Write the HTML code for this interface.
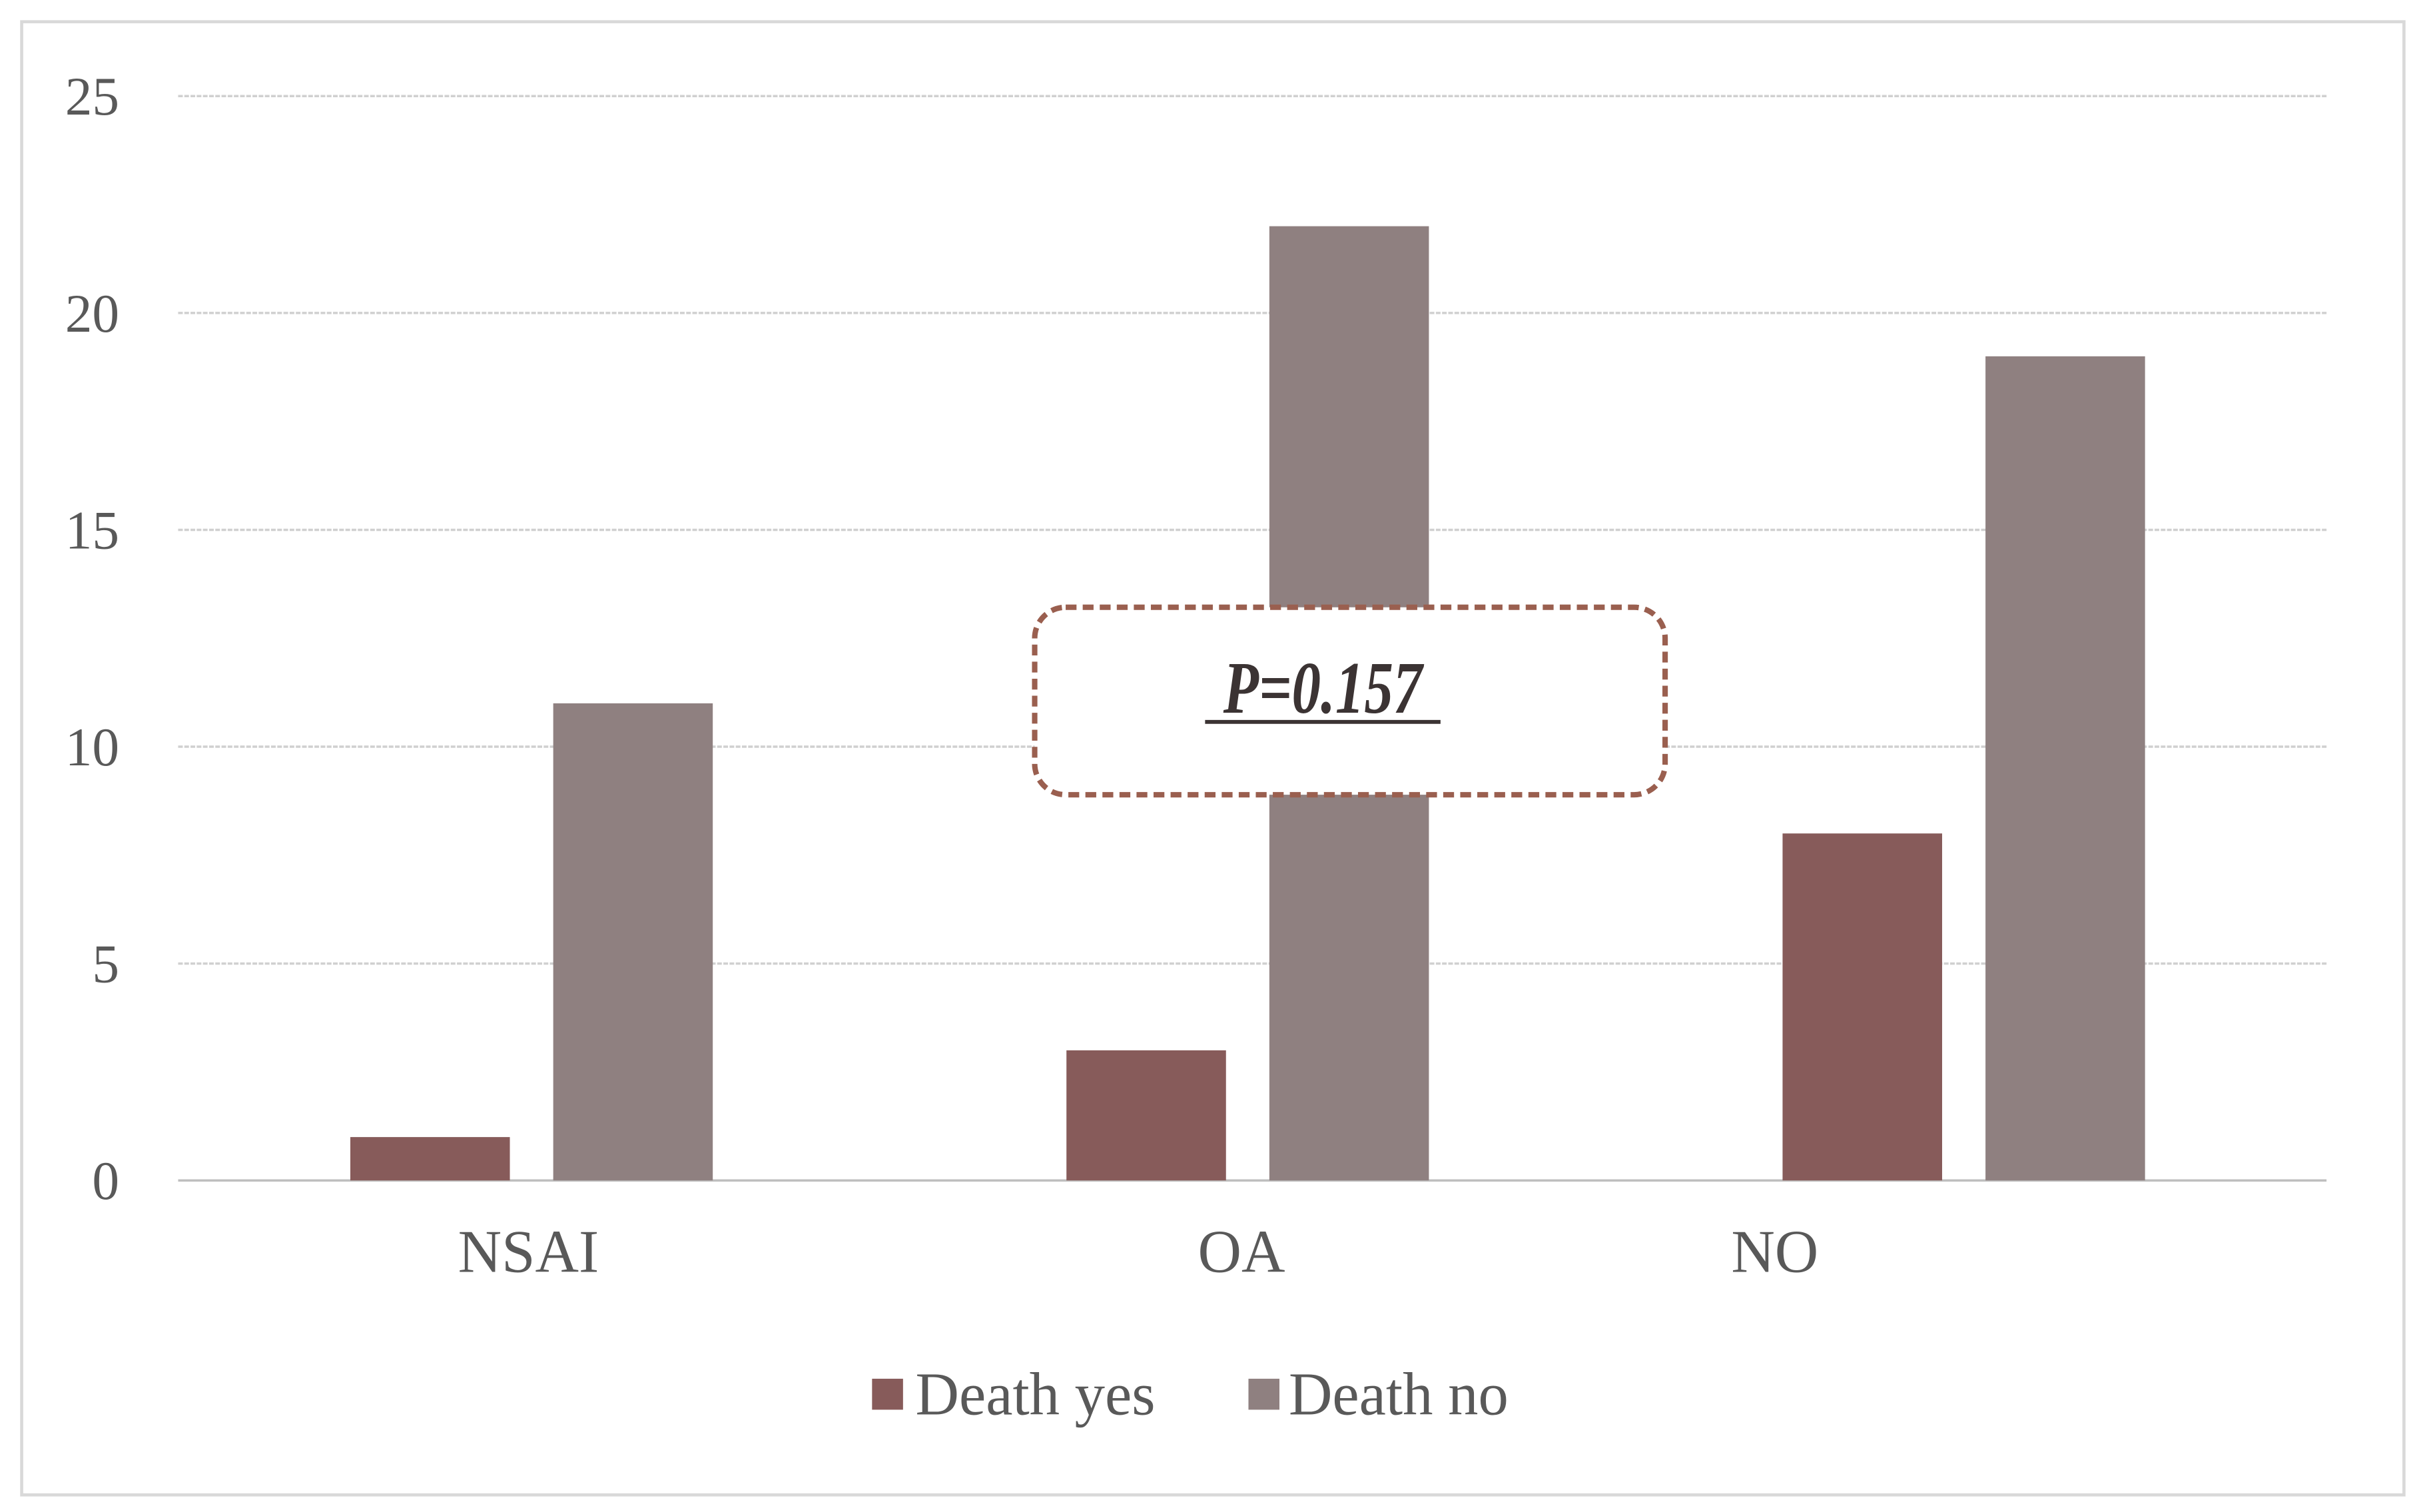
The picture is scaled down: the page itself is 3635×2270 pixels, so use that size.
<!DOCTYPE html>
<html><head><meta charset="utf-8"><style>
html,body{margin:0;padding:0;background:#fff;}
svg{display:block;}
</style></head><body>
<svg id="chart" width="3635" height="2270" viewBox="0 0 1563 976" xmlns="http://www.w3.org/2000/svg" font-family="'Liberation Serif', serif">
<rect x="14" y="14" width="1538" height="951" fill="#fff" stroke="#d9d9d9" stroke-width="2"/>
<g id="grid"></g>
<g id="bars"></g>
<g id="labels"></g>
<g>
<rect x="668" y="392" width="407" height="121" rx="20" ry="20" fill="#fff" stroke="#9a5f4f" stroke-width="3.5" stroke-dasharray="7,4"/>
<text x="854" y="460" text-anchor="middle" font-size="48" font-style="italic" font-weight="bold" fill="#3b3333" transform="translate(854 0) scale(0.78 1) translate(-854 0)">P=0.157</text>
<line x1="778" y1="466" x2="930" y2="466" stroke="#3b3333" stroke-width="2.5"/>
</g>
<g>
<rect x="563" y="890" width="20" height="20" fill="#875b5a"/>
<text x="591" y="913" font-size="39" fill="#595959">Death yes</text>
<rect x="806" y="890" width="20" height="20" fill="#8f8080"/>
<text x="832" y="913" font-size="39" fill="#595959">Death no</text>
</g>
</svg>
<script>
const categories = ["NSAI", "OA", "NO"];
const deathYes = [1, 3, 8];
const deathNo = [11, 22, 19];
const yTicks = [0, 5, 10, 15, 20, 25];

const NS = "http://www.w3.org/2000/svg";
const plotL = 115, plotR = 1502, plotT = 62, plotB = 762, yMax = 25;
function y(v){ return plotB - (v / yMax) * (plotB - plotT); }
const band = (plotR - plotL) / categories.length;
function xBand(i){ return plotL + band * i; }
const barW = 103, gap = 28;
const labelShift = [-5, -7, -125];

function mk(tag, attrs){ const e = document.createElementNS(NS, tag); for (const k in attrs) e.setAttribute(k, attrs[k]); return e; }
const grid = document.getElementById("grid"), bars = document.getElementById("bars"), labels = document.getElementById("labels");

yTicks.forEach(t => {
  const l = mk("line", {x1: plotL, x2: plotR, y1: y(t), y2: y(t), stroke: t === 0 ? "#bfbfbf" : "#d0d0d0", "stroke-width": 1.5, "stroke-dasharray": t === 0 ? "none" : "3,1"});
  
  
  grid.appendChild(l);
  const tx = mk("text", {x: 77, y: y(t) + 12, "text-anchor": "end", "font-size": 35, fill: "#595959"});
  tx.textContent = t;
  
  
  labels.appendChild(tx);
});

categories.forEach((c, i) => {
  const cx = xBand(i) + band / 2;
  const yesX = cx - gap / 2 - barW - 3, noX = cx + gap / 2 - 3;
  const r1 = mk("rect", {x: yesX, y: y(deathYes[i]), width: barW, height: y(0) - y(deathYes[i]), fill: "#875b5a"});
  
  
  bars.appendChild(r1);
  const r2 = mk("rect", {x: noX, y: y(deathNo[i]), width: barW, height: y(0) - y(deathNo[i]), fill: "#8f8080"});
  
  
  bars.appendChild(r2);
  const lab = mk("text", {x: cx + labelShift[i], y: 821, "text-anchor": "middle", "font-size": 39, fill: "#595959"});
  lab.textContent = c;
  
  
  labels.appendChild(lab);
});
</script>
</body></html>
